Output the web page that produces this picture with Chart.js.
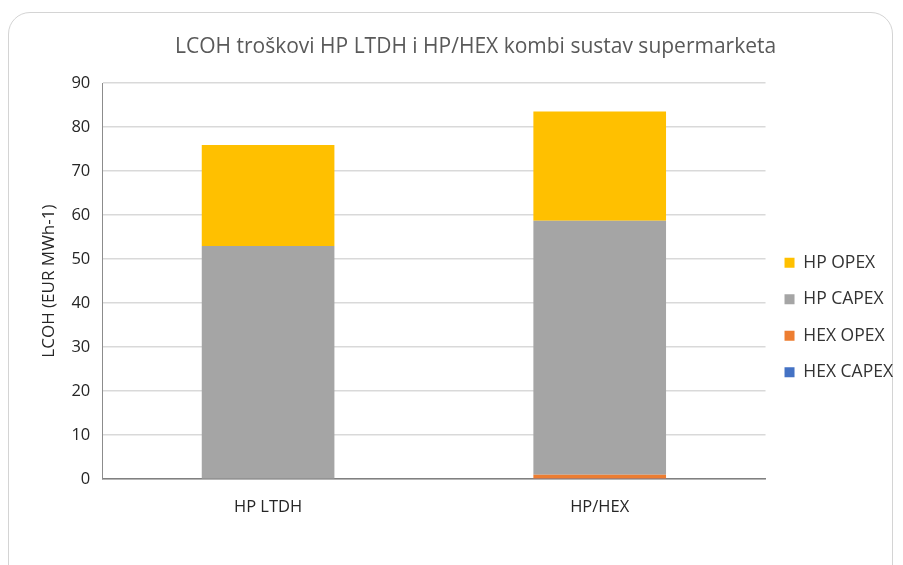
<!DOCTYPE html>
<html lang="hr">
  <head>
    <meta charset="UTF-8" />
    <title>LCOH troškovi</title>
    <script src="https://cdn.jsdelivr.net/npm/chart.js"></script>
    <style>
      html, body { margin: 0; padding: 0; background: #fff; overflow: hidden; }
      .frame {
        position: absolute; left: 8px; top: 12px; width: 885px; height: 580px;
        border: 1px solid #d4d4d4; border-radius: 22px; box-sizing: border-box;
      }
      .wrap { position: absolute; left: 0; top: 0; width: 903px; height: 565px; }
      .title {
        position: absolute; left: 175px; width: 600px; top: 31px;
        text-align: center; white-space: nowrap;
        font: 21px 'Open Sans', 'Liberation Sans', sans-serif; color: #595959;
        line-height: 28px;
      }
    </style>
  </head>
  <body>
    <div class="frame"></div>
    <div class="wrap"><canvas id="c" width="903" height="565"></canvas></div>
    <div class="title">LCOH troškovi HP LTDH i HP/HEX kombi sustav supermarketa</div>
    <script>
      // podaci
      const categories = ["HP LTDH", "HP/HEX"];
      const hexCapex = [0, 0.1];
      const hexOpex = [0, 0.9];
      const hpCapex = [53.0, 57.7];
      const hpOpex = [22.9, 24.8];
      const yTicks = [0, 10, 20, 30, 40, 50, 60, 70, 80, 90];

      const font = "'Open Sans', 'Liberation Sans', sans-serif";

      new Chart(document.getElementById("c"), {
        type: "bar",
        data: {
          labels: categories,
          datasets: [
            { label: "HEX CAPEX", data: hexCapex, backgroundColor: "#4472C4" },
            { label: "HEX OPEX", data: hexOpex, backgroundColor: "#ED7D31" },
            { label: "HP CAPEX", data: hpCapex, backgroundColor: "#A5A5A5" },
            { label: "HP OPEX", data: hpOpex, backgroundColor: "#FFC000" },
          ],
        },
        options: {
          responsive: false,
          animation: false,
          layout: { padding: { left: 39, right: 0, top: 83, bottom: 38 } },
          datasets: { bar: { categoryPercentage: 0.4, barPercentage: 1 } },
          plugins: {
            title: { display: false },
            legend: {
              position: "right",
              reverse: true,
              title: { display: true, text: " ", padding: 4, font: { size: 14 } },
              labels: {
                boxWidth: 10,
                boxHeight: 10,
                padding: 19,
                color: "#333",
                font: { family: font, size: 17.5 },
              },
            },
            tooltip: { enabled: false },
          },
          scales: {
            x: {
              stacked: true,
              grid: { display: false },
              border: { color: "#808080", width: 1.5 },
              ticks: { color: "#262626", font: { family: font, size: 16.5 }, padding: 10 },
            },
            y: {
              stacked: true,
              min: 0,
              max: 90,
              afterBuildTicks: (axis) => { axis.ticks = yTicks.map((v) => ({ value: v })); },
              grid: { color: "#d9d9d9", lineWidth: 1.5, drawTicks: false },
              border: { display: true, color: "#8c8c8c", width: 1 },
              ticks: { color: "#262626", font: { family: font, size: 16.5 }, padding: 12 },
              title: {
                display: true,
                text: "LCOH (EUR MWh-1)",
                color: "#262626",
                font: { family: font, size: 17 },
                padding: { top: 0, bottom: 0 },
              },
            },
          },
        },
      });
    </script>
  </body>
</html>
